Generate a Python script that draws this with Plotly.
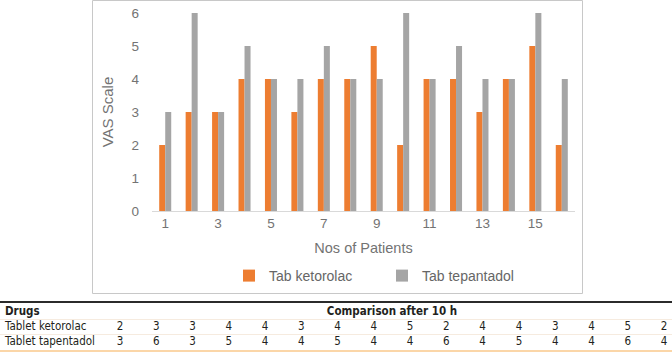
import plotly.graph_objects as go

# ---- data ----
patients = list(range(1, 17))
ketorolac = [2, 3, 3, 4, 4, 3, 4, 4, 5, 2, 4, 4, 3, 4, 5, 2]
tapentadol = [3, 6, 3, 5, 4, 4, 5, 4, 4, 6, 4, 5, 4, 4, 6, 4]
series_names = ["Tab ketorolac", "Tab tepantadol"]
row_labels = ["Tablet ketorolac", "Tablet tapentadol"]
header_labels = ["Drugs", "Comparison after 10 h"]
x_tickvals = [1, 3, 5, 7, 9, 11, 13, 15]
y_tickvals = [0, 1, 2, 3, 4, 5, 6]

W, H = 672, 352
ORANGE = "#ED7D31"
GRAY = "#A5A5A5"
AXIS_TXT = "#737373"
TABLE_TXT = "#231f20"
CHART_FONT = "Liberation Sans, Arial, sans-serif"
TABLE_FONT = "Liberation Sans Narrow, DejaVu Sans Condensed, Roboto Condensed, Arial Narrow, Liberation Sans, sans-serif"


def px_x(p):
    return p / W


def px_y(p):
    return (H - p) / H


fig = go.Figure()

fig.add_trace(go.Bar(x=patients, y=ketorolac, name=series_names[0],
                     marker=dict(color=ORANGE, line=dict(width=0))))
fig.add_trace(go.Bar(x=patients, y=tapentadol, name=series_names[1],
                     marker=dict(color=GRAY, line=dict(width=0))))

# ---- table as text on hidden axes ----
label_x = -2.17
cols = patients
tfont = dict(family=TABLE_FONT, size=11.5, color=TABLE_TXT)
fig.add_trace(go.Scatter(x=[label_x], y=[0], mode="text", text=["<b>" + header_labels[0] + "</b>"],
                         textposition="middle right", xaxis="x2", yaxis="y2",
                         textfont=tfont, showlegend=False, hoverinfo="skip"))
fig.add_trace(go.Scatter(x=[(cols[0] + cols[-1]) / 2], y=[0], mode="text",
                         text=["<b>" + header_labels[1] + "</b>"],
                         textposition="middle center", xaxis="x2", yaxis="y2",
                         textfont=tfont, showlegend=False, hoverinfo="skip"))
for r, (lab, vals) in enumerate(zip(row_labels, [ketorolac, tapentadol]), start=1):
    fig.add_trace(go.Scatter(x=[label_x], y=[r], mode="text", text=[lab],
                             textposition="middle right", xaxis="x2", yaxis="y2",
                             textfont=tfont, showlegend=False, hoverinfo="skip"))
    fig.add_trace(go.Scatter(x=cols, y=[r] * len(cols), mode="text", text=[str(v) for v in vals],
                             textposition="middle center", xaxis="x2", yaxis="y2",
                             textfont=tfont, showlegend=False, hoverinfo="skip"))

shapes = [
    # chart frame
    dict(type="rect", xref="paper", yref="paper", x0=px_x(92.5), x1=px_x(582.5),
         y0=px_y(293.5), y1=px_y(0.5), line=dict(color="#c8c8c8", width=1), layer="below"),
    # table rules
    dict(type="line", xref="paper", yref="paper", x0=0, x1=1, y0=px_y(302), y1=px_y(302),
         line=dict(color="#2b2b2b", width=2)),
    dict(type="line", xref="paper", yref="y2", x0=0, x1=1, y0=0.5, y1=0.5,
         line=dict(color="#f6ebdf", width=1)),
    dict(type="line", xref="paper", yref="y2", x0=0, x1=1, y0=1.5, y1=1.5,
         line=dict(color="#f6ebdf", width=1)),
    dict(type="line", xref="paper", yref="paper", x0=0, x1=1, y0=px_y(351), y1=px_y(351),
         line=dict(color="#fbd6a8", width=2)),
]

fig.update_layout(
    width=W, height=H,
    margin=dict(l=0, r=0, t=0, b=0),
    paper_bgcolor="white", plot_bgcolor="white",
    barmode="group", bargap=0.545, bargroupgap=0,
    font=dict(family=CHART_FONT, color=AXIS_TXT),
    xaxis=dict(domain=[px_x(152), px_x(575)], range=[0.5, 16.5],
               tickvals=x_tickvals, ticks="", showgrid=False, zeroline=False,
               showline=True, linecolor="#d9d9d9", linewidth=1,
               tickfont=dict(size=13.5, color=AXIS_TXT),
               title=dict(text="Nos of Patients", font=dict(size=14.5, color=AXIS_TXT), standoff=12),
               automargin=False, fixedrange=True),
    yaxis=dict(domain=[px_y(211), px_y(13)], range=[0, 6],
               tickvals=y_tickvals, ticks="", showgrid=False, zeroline=False, showline=False,
               tickfont=dict(size=13.5, color=AXIS_TXT), ticklabelstandoff=12,
               title=dict(text="VAS Scale", font=dict(size=15, color=AXIS_TXT), standoff=14),
               automargin=False, fixedrange=True),
    xaxis2=dict(domain=[0, 1], range=[-2.308, 16.22], visible=False, anchor="y2", fixedrange=True),
    yaxis2=dict(domain=[0, px_y(302)], range=[2.667, -0.667], visible=False, anchor="x2", fixedrange=True),
    legend=dict(orientation="h", x=px_x(229), xanchor="left", y=px_y(276), yanchor="middle",
                entrywidth=108, font=dict(size=14, color="#666666"),
                bgcolor="rgba(0,0,0,0)", traceorder="normal"),
    shapes=shapes,
    showlegend=True,
)

fig.write_html("out.html", config={"displayModeBar": False, "staticPlot": False},
               post_script="document.body.style.margin='0';document.body.style.padding='0';")
